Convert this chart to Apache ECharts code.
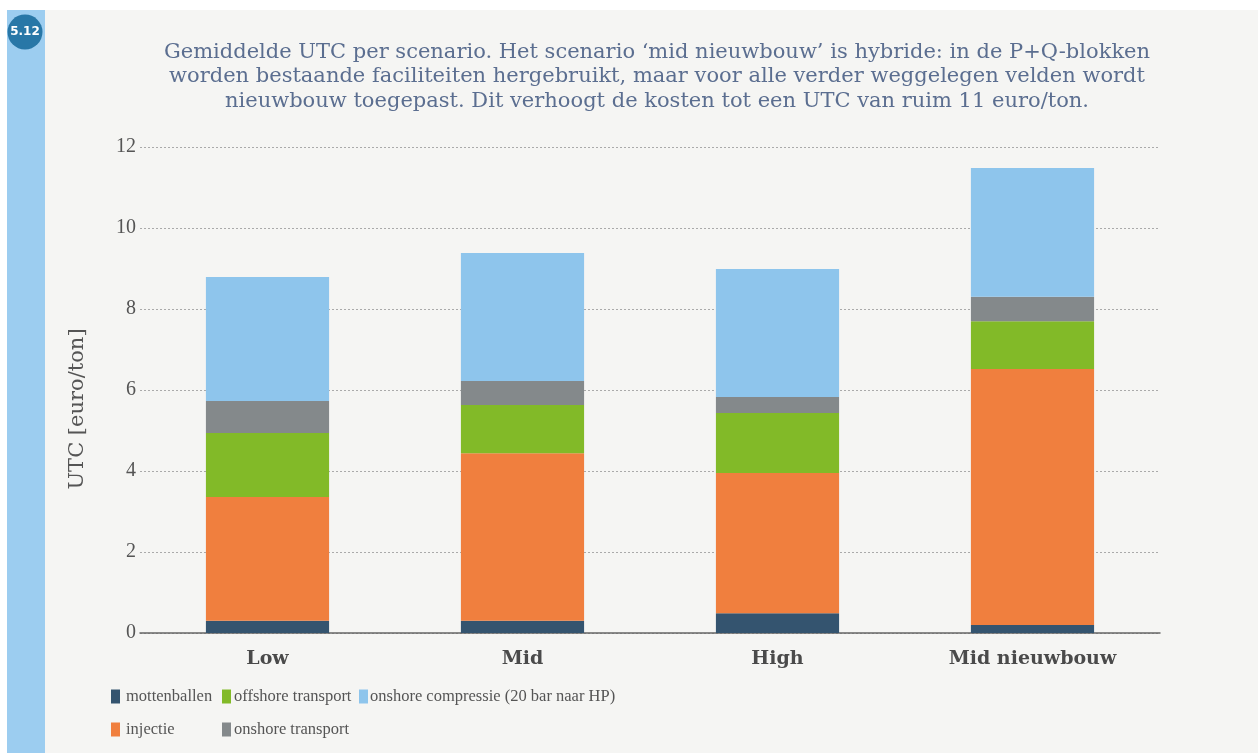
<!DOCTYPE html>
<html><head><meta charset="utf-8">
<script src="https://cdn.jsdelivr.net/npm/echarts@6/dist/echarts.min.js"></script>
<style>html,body{margin:0;padding:0;background:#fff}#c{width:1258px;height:753px}</style>
</head><body><div id="c"></div>
<script>
const categories = ['Low', 'Mid', 'High', 'Mid nieuwbouw'];
const mottenballen = [0.30, 0.30, 0.49, 0.20];
const injectie = [3.06, 4.14, 3.46, 6.32];
const offshoreTransport = [1.58, 1.19, 1.48, 1.18];
const onshoreTransport = [0.79, 0.59, 0.40, 0.60];
const onshoreCompressie = [3.06, 3.16, 3.16, 3.18];
const yTicks = [0, 2, 4, 6, 8, 10, 12];

const FD = '"DejaVu Serif", serif';
const FL = '"Liberation Serif", serif';
const names = ['mottenballen', 'injectie', 'offshore transport', 'onshore transport', 'onshore compressie (20 bar naar HP)'];
const colors = ['#34546f', '#f07f3e', '#82ba28', '#84898b', '#8ec5ec'];
const values = [mottenballen, injectie, offshoreTransport, onshoreTransport, onshoreCompressie];

const legendPos = [
  {i:0, left:111, top:688, pad:1},
  {i:2, left:222, top:688, pad:-2},
  {i:4, left:359, top:688, pad:-3},
  {i:1, left:111, top:721, pad:1},
  {i:3, left:222, top:721, pad:-2}
];

const chart = echarts.init(document.getElementById('c'), null, {renderer:'canvas'});
chart.setOption({
  backgroundColor: '#ffffff',
  animation: false,
  graphic: [
    {type:'rect', z:-10, shape:{x:45, y:10, width:1213, height:743}, style:{fill:'#f5f5f3'}},
    {type:'rect', z:-10, shape:{x:7, y:10, width:38, height:743}, style:{fill:'#9ccdf0'}},
    {type:'circle', z:-5, shape:{cx:25, cy:32, r:17.5}, style:{fill:'#2877a7'}},
    {type:'text', z:-4, style:{x:25, y:32, text:'5.12', fill:'#fff', font:'bold 12px "DejaVu Sans", sans-serif', textAlign:'center', textVerticalAlign:'middle'}}
  ],
  title: {
    text: 'Gemiddelde UTC per scenario. Het scenario ‘mid nieuwbouw’ is hybride: in de P+Q-blokken\nworden bestaande faciliteiten hergebruikt, maar voor alle verder weggelegen velden wordt\nnieuwbouw toegepast. Dit verhoogt de kosten tot een UTC van ruim 11 euro/ton.',
    left: 652, top: 35, textAlign: 'center',
    textStyle: {fontFamily: FD, fontSize: 21, fontWeight: 'normal', color: '#5b6e90', lineHeight: 24.5}
  },
  legend: legendPos.map(p => ({
    left: p.left, top: p.top, data: [names[p.i]], itemWidth: 9, itemHeight: 14, itemGap: 0,
    icon: 'rect', selectedMode: false, padding: 0,
    textStyle: {fontFamily: FL, fontSize: 16.5, color: '#555', padding:[0,0,0,p.pad]}
  })),
  grid: {left: 140, right: 98, top: 147, bottom: 120, containLabel: false},
  xAxis: {
    type: 'category', data: categories,
    axisLine: {lineStyle: {color: '#666', width: 1.5}},
    axisTick: {show: false},
    axisLabel: {fontFamily: FD, fontSize: 19, fontWeight: 'bold', color: '#4a4a4a', margin: 17}
  },
  yAxis: {
    type: 'value', min: 0, max: 12, interval: 2,
    name: 'UTC [euro/ton]', nameLocation: 'middle', nameGap: 52,
    nameTextStyle: {fontFamily: FD, fontSize: 21, color: '#555', padding: [0, 38, 0, 0]},
    axisLine: {show: false}, axisTick: {show: false},
    axisLabel: {fontFamily: FL, fontSize: 20, color: '#555', margin: 4,
      formatter: v => yTicks.includes(v) ? String(v) : ''},
    splitLine: {lineStyle: {color: '#aaa', type: [2, 2], width: 1}}
  },
  series: names.map((n, k) => ({
    name: n, type: 'bar', stack: 'utc', data: values[k], barWidth: '48.3%',
    itemStyle: {color: colors[k]}
  }))
});
</script></body></html>
